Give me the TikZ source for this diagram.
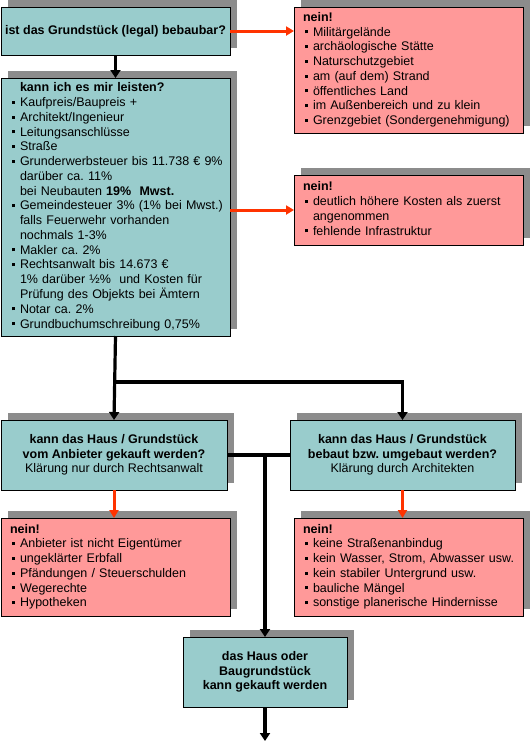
\documentclass[tikz,border=0pt]{standalone}
\usepackage{fontspec}
\setmainfont{Liberation Sans}
\frenchspacing
\usetikzlibrary{arrows.meta}
\definecolor{AskFill}{HTML}{99CCCC}
\definecolor{NoFill}{HTML}{FF9999}
\definecolor{NoLine}{HTML}{FF3300}
\definecolor{ShadeGray}{HTML}{8C8C8C}
\newcommand{\blt}{\makebox[10pt][l]{\hspace{1.5pt}\rule[2.8pt]{3pt}{3pt}}}
\tikzset{
  every node/.style={font=\fontsize{12.5}{14.75}\selectfont},
  box/.style={draw=black, line width=0.9pt, inner sep=0pt, outer sep=0pt,
    preaction={draw=none, fill=ShadeGray, transform canvas={shift={(7pt,7pt)}}}},
  ask/.style={box, fill=AskFill},
  nope/.style={box, fill=NoFill},
  listed/.style={align=left, inner xsep=9pt, text width=211pt},
  flow/.style={draw=black, line width=3.2pt, -{Triangle[length=8pt,width=10pt]}},
  tie/.style={draw=black, line width=3.2pt},
  refuse/.style={draw=NoLine, line width=3pt, -{Triangle[length=8pt,width=9pt]}},
}
\begin{document}
\begin{tikzpicture}[x=1pt,y=-1pt]
  \useasboundingbox (0,0) rectangle (531,745);
  % questions in teal (left column), refusals in red (right column)
  \node[ask, minimum width=229pt, minimum height=48pt] (legal) at (115.5,31)
    {\textbf{ist das Grundstück (legal) bebaubar?}};
  \node[nope, listed, minimum height=126pt] (noland) at (408.5,70)
    {\begin{tabular}{@{}l@{}l@{}}
     \multicolumn{2}{@{}l@{}}{\textbf{nein!}}\\
     \blt & Militärgelände\\
     \blt & archäologische Stätte\\
     \blt & Naturschutzgebiet\\
     \blt & am (auf dem) Strand\\
     \blt & öffentliches Land\\
     \blt & im Außenbereich und zu klein\\
     \blt & Grenzgebiet (Sondergenehmigung)
     \end{tabular}};
  \node[ask, listed, minimum height=258pt] (afford) at (115.5,207)
    {\begin{tabular}{@{}l@{}l@{}}
     & \textbf{kann ich es mir leisten?}\\
     \blt & Kaufpreis/Baupreis +\\
     \blt & Architekt/Ingenieur\\
     \blt & Leitungsanschlüsse\\
     \blt & Straße\\
     \blt & Grunderwerbsteuer bis 11.738 € 9\%\\
     & darüber ca. 11\%\\
     & bei Neubauten \textbf{19\%\ \ Mwst.}\\
     \blt & Gemeindesteuer 3\% (1\% bei Mwst.)\\
     & falls Feuerwehr vorhanden\\
     & nochmals 1-3\%\\
     \blt & Makler ca. 2\%\\
     \blt & Rechtsanwalt bis 14.673 €\\
     & 1\% darüber ½\%\ \ und Kosten für\\
     & Prüfung des Objekts bei Ämtern\\
     \blt & Notar ca. 2\%\\
     \blt & Grundbuchumschreibung 0,75\%
     \end{tabular}};
  \node[nope, listed, minimum height=70pt] (nocost) at (408.5,210)
    {\begin{tabular}{@{}l@{}l@{}}
     \multicolumn{2}{@{}l@{}}{\textbf{nein!}}\\
     \blt & deutlich höhere Kosten als zuerst\\
     & angenommen\\
     \blt & fehlende Infrastruktur
     \end{tabular}};
  \node[ask, align=center, minimum width=226pt, minimum height=70pt] (seller) at (114,455)
    {\textbf{kann das Haus / Grundstück}\\
     \textbf{vom Anbieter gekauft werden?}\\
     Klärung nur durch Rechtsanwalt};
  \node[ask, align=center, minimum width=225pt, minimum height=70pt] (build) at (402.5,455)
    {\textbf{kann das Haus / Grundstück}\\
     \textbf{bebaut bzw. umgebaut werden?}\\
     Klärung durch Architekten};
  \node[nope, listed, minimum height=98pt] (noseller) at (115.5,567)
    {\begin{tabular}{@{}l@{}l@{}}
     \multicolumn{2}{@{}l@{}}{\textbf{nein!}}\\
     \blt & Anbieter ist nicht Eigentümer\\
     \blt & ungeklärter Erbfall\\
     \blt & Pfändungen / Steuerschulden\\
     \blt & Wegerechte\\
     \blt & Hypotheken
     \end{tabular}};
  \node[nope, listed, minimum height=98pt] (nobuild) at (408.5,567)
    {\begin{tabular}{@{}l@{}l@{}}
     \multicolumn{2}{@{}l@{}}{\textbf{nein!}}\\
     \blt & keine Straßenanbindug\\
     \blt & kein Wasser, Strom, Abwasser usw.\\
     \blt & kein stabiler Untergrund usw.\\
     \blt & bauliche Mängel\\
     \blt & sonstige planerische Hindernisse
     \end{tabular}};
  \node[ask, align=center, minimum width=164pt, minimum height=70pt] (buy) at (265,672)
    {\textbf{das Haus oder}\\
     \textbf{Baugrundstück}\\
     \textbf{kann gekauft werden}};
  % connectors
  \coordinate (split) at (afford.south |- 0,382);
  \coordinate (merge) at (buy.north |- seller.east);
  \coordinate (exit) at (buy.south |- 0,741);
  \draw[refuse] (legal.east) -- (legal.east -| noland.west);
  \draw[refuse] (afford.east |- nocost.west) -- (nocost.west);
  \draw[flow] (legal.south) -- (afford.north);
  \draw[flow] (afford.south) -- (seller.north);
  \draw[flow] (split) -| (build.north);
  \draw[tie] (seller.east) -- (build.west);
  \draw[flow] (merge) -- (buy.north);
  \draw[refuse] (seller.south) -- (seller.south |- noseller.north);
  \draw[refuse] (build.south) -- (build.south |- nobuild.north);
  \draw[flow] (buy.south) -- (exit);
\end{tikzpicture}
\end{document}
